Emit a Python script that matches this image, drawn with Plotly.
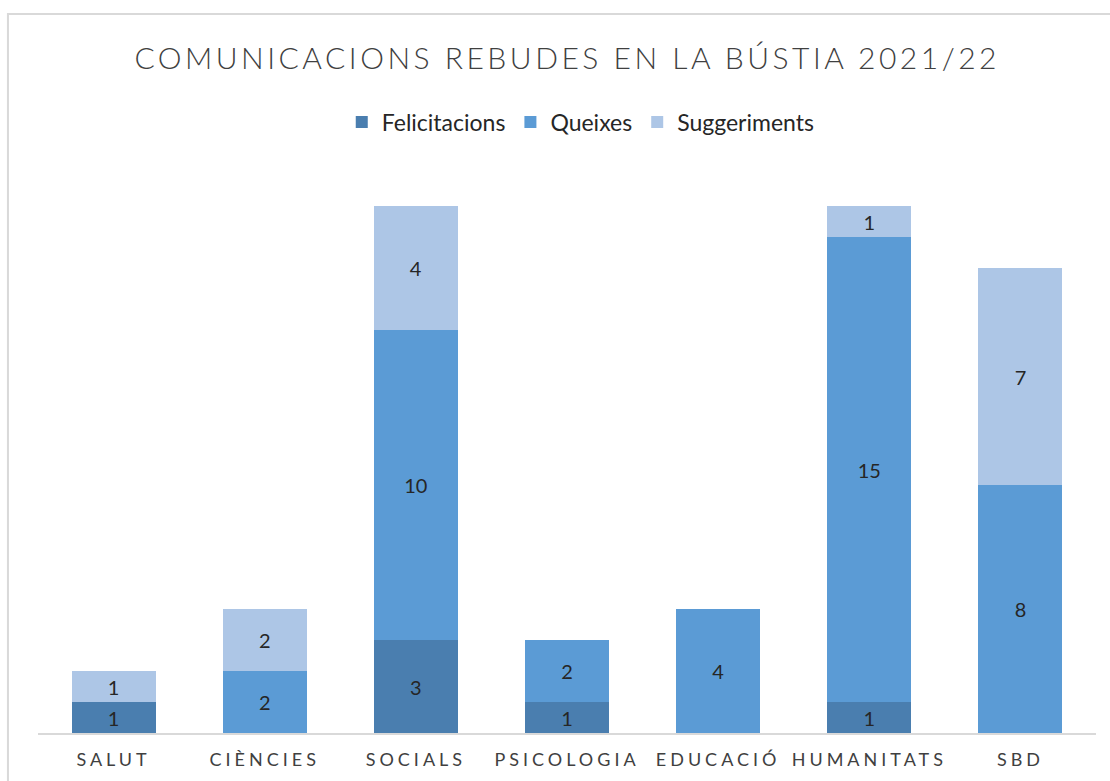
import plotly.graph_objects as go

# categories and series
categories = ["SALUT", "CIÈNCIES", "SOCIALS", "PSICOLOGIA", "EDUCACIÓ", "HUMANITATS", "SBD"]
felicitacions = [1, 0, 3, 1, 0, 1, 0]
queixes = [0, 2, 10, 2, 4, 15, 8]
suggeriments = [1, 2, 4, 0, 0, 1, 7]

series = [
    ("Felicitacions", felicitacions, "#4A7EAF"),
    ("Queixes", queixes, "#5B9BD5"),
    ("Suggeriments", suggeriments, "#ADC6E6"),
]

FONT = "Lato, 'Open Sans', sans-serif"

fig = go.Figure()
for name, vals, col in series:
    fig.add_trace(go.Bar(
        x=categories, y=vals, name=name,
        marker=dict(color=col, line=dict(width=0)),
        text=[str(v) if v else "" for v in vals],
        textposition="inside", insidetextanchor="middle",
        textfont=dict(family=FONT, size=20, color="#262626"),
        textangle=0,
    ))

fig.update_layout(
    barmode="stack",
    bargap=0.444,
    width=1110, height=781,
    paper_bgcolor="white", plot_bgcolor="white",
    margin=dict(l=38, r=14, t=175, b=48),
    title=dict(
        text="COMUNICACIONS REBUDES EN LA BÚSTIA 2021/22",
        x=0.511, xanchor="center", y=0.925, yanchor="middle",
        font=dict(family=FONT, size=30, color="#404040", weight=300),
    ),
    legend=dict(
        orientation="h", x=0.513, xanchor="center", y=1.095, yanchor="middle",
        font=dict(family=FONT, size=23, color="#262626"),
        traceorder="normal", itemclick=False,
    ),
    uniformtext=dict(mode="show", minsize=20),
    showlegend=True,
)

fig.update_xaxes(
    showline=True, linecolor="#D9D9D9", linewidth=1.5,
    showgrid=False, ticks="", ticklabelstandoff=10,
    tickfont=dict(family=FONT, size=18, color="#404040"),
)
fig.update_yaxes(range=[0, 18], visible=False, showgrid=False)

# chart frame (light grey, runs past right/bottom edge like the reference crop)
fig.add_shape(type="rect", xref="paper", yref="paper",
              x0=-0.0284, x1=1.2, y0=-0.3, y1=1.2885,
              line=dict(color="#D9D9D9", width=2), layer="below")

spacing_js = """
document.body.style.margin='0';
document.querySelectorAll('.gtitle').forEach(function(e){e.style.letterSpacing='3.5px';});
document.querySelectorAll('.xtick text').forEach(function(e){e.style.letterSpacing='4px';});
"""

fig.write_html("out.html", post_script=spacing_js, config={"displayModeBar": False})
